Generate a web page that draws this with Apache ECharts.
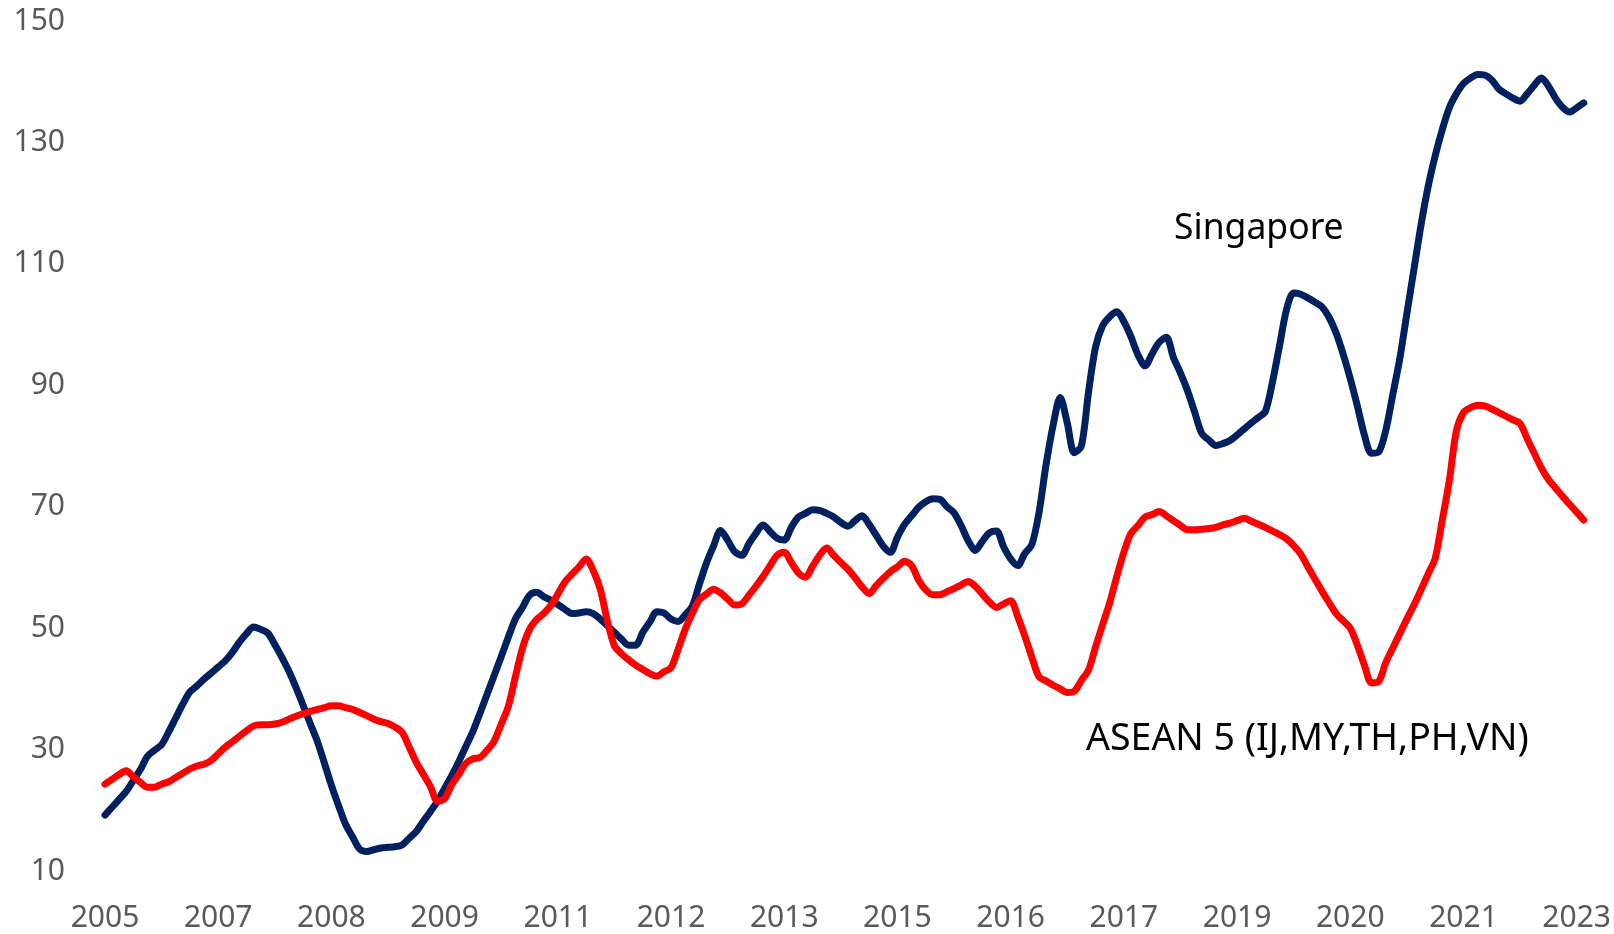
<!DOCTYPE html>
<html>
<head>
    <meta charset="utf-8">
    <title>Singapore vs ASEAN 5</title>
    <style>
        html, body { margin: 0; padding: 0; background: #fff; }
        #main { width: 1614px; height: 934px; }
    </style>
</head>
<body>
<div id="main"></div>

<script src="https://cdn.jsdelivr.net/npm/echarts@6/dist/echarts.min.js"></script>
<script>
    // monthly points, first one is 2005-09
    var startYear = 2005;
    var startMonth = 9;

    var singapore = [
        19.2, 20.5, 21.8, 23.1, 24.9, 26.7, 28.9, 29.9, 30.8, 32.9,
        35.2, 37.5, 39.5, 40.5, 41.6, 42.6, 43.6, 44.6, 46.0, 47.7,
        49.1, 50.2, 49.8, 49.2, 47.3, 45.2, 42.9, 40.2, 37.3, 34.3,
        31.4, 27.8, 24.1, 20.8, 17.7, 15.6, 13.6, 13.2, 13.5, 13.8,
        13.9, 14.0, 14.3, 15.4, 16.5, 18.2, 19.8, 21.5, 23.6, 25.7,
        28.0, 30.5, 33.0, 36.0, 39.1, 42.2, 45.3, 48.5, 51.5, 53.4,
        55.4, 55.9, 55.2, 54.6, 53.9, 53.1, 52.4, 52.5, 52.7, 52.4,
        51.5, 50.4, 49.3, 48.2, 47.2, 47.2, 49.3, 51.0, 52.7, 52.5,
        51.5, 51.1, 52.2, 53.6, 57.2, 60.7, 63.5, 66.1, 64.5, 62.6,
        62.0, 63.9, 65.6, 67.0, 65.9, 64.8, 64.5, 66.6, 68.3, 68.9,
        69.5, 69.4, 68.9, 68.3, 67.4, 66.8, 67.7, 68.5, 67.1, 65.3,
        63.5, 62.5, 65.0, 67.1, 68.5, 69.9, 70.8, 71.3, 71.2, 70.0,
        69.0, 66.9, 64.4, 62.8, 64.3, 65.7, 66.0, 63.4, 61.4, 60.3,
        62.3, 63.8, 69.0, 76.9, 83.4, 88.0, 83.8, 78.9, 80.0, 88.8,
        96.3, 99.8, 101.3, 102.1, 100.5, 98.0, 95.0, 93.2, 95.2, 97.1,
        97.9, 94.6, 92.0, 89.1, 85.6, 82.1, 81.0, 80.1, 80.4, 80.9,
        81.8, 82.8, 83.8, 84.7, 85.7, 90.5, 96.5, 102.5, 105.2, 105.0,
        104.4, 103.7, 102.9, 101.2, 98.6, 95.1, 91.1, 86.6, 81.8, 78.8,
        79.0, 82.5, 88.4, 94.4, 101.8, 109.1, 116.4, 122.7, 127.8, 132.1,
        135.7, 138.0, 139.7, 140.6, 141.2, 141.1, 140.3, 138.8, 138.0, 137.3,
        136.8, 138.0, 139.4, 140.6, 139.3, 137.3, 135.8, 135.0, 135.7, 136.5
    ];

    var asean5 = [
        24.3, 25.1, 25.9, 26.5, 25.5, 24.6, 23.8, 23.8, 24.3, 24.7,
        25.4, 26.1, 26.8, 27.3, 27.6, 28.2, 29.3, 30.4, 31.3, 32.2,
        33.1, 33.9, 34.1, 34.1, 34.2, 34.5, 35.0, 35.5, 35.9, 36.3,
        36.6, 36.9, 37.2, 37.2, 36.9, 36.6, 36.1, 35.6, 35.0, 34.6,
        34.3, 33.7, 32.8, 30.4, 27.9, 25.9, 23.9, 21.5, 21.9, 24.2,
        25.9, 27.7, 28.5, 28.7, 29.9, 31.4, 34.2, 37.1, 42.0, 46.7,
        49.8, 51.4, 52.4, 53.7, 55.6, 57.6, 58.9, 60.1, 61.4, 59.5,
        56.4, 51.2, 47.1, 45.8, 44.8, 43.9, 43.2, 42.5, 42.1, 42.8,
        43.5, 46.5, 49.8, 52.4, 54.7, 55.6, 56.4, 55.8, 54.8, 53.8,
        54.0, 55.4, 56.9, 58.5, 60.3, 62.0, 62.5, 60.8, 59.1, 58.4,
        60.2, 62.0, 63.2, 62.0, 60.8, 59.7, 58.3, 56.8, 55.7, 57.0,
        58.2, 59.3, 60.1, 61.0, 60.3, 57.9, 56.3, 55.5, 55.5, 56.0,
        56.5, 57.1, 57.7, 56.9, 55.6, 54.3, 53.4, 54.0, 54.5, 51.9,
        48.7, 45.2, 42.0, 41.3, 40.6, 40.0, 39.4, 39.6, 41.4, 43.1,
        46.9, 50.6, 54.2, 58.5, 62.5, 65.6, 66.9, 68.3, 68.7, 69.2,
        68.5, 67.7, 66.9, 66.2, 66.2, 66.3, 66.4, 66.6, 67.0, 67.3,
        67.7, 68.1, 67.6, 67.1, 66.6, 66.0, 65.4, 64.7, 63.6, 62.2,
        60.1, 58.1, 56.1, 54.2, 52.4, 51.2, 50.0, 47.2, 43.9, 41.0,
        41.2, 44.3, 46.7, 49.1, 51.5, 53.8, 56.3, 58.9, 61.5, 67.8,
        74.3, 82.5, 85.5, 86.3, 86.7, 86.6, 86.1, 85.5, 84.9, 84.3,
        83.7, 81.2, 78.8, 76.4, 74.5, 73.1, 71.7, 70.4, 69.1, 67.8
    ];

    var yTicks = [10, 30, 50, 70, 90, 110, 130, 150];

    var months = [];
    for (var i = 0; i < singapore.length; i++) {
        var m = startMonth - 1 + i;
        var y = startYear + Math.floor(m / 12);
        var mm = (m % 12) + 1;
        months.push(y + '-' + (mm < 10 ? '0' + mm : mm));
    }

    var chart = echarts.init(document.getElementById('main'));

    var option = {
        animation: false,
        backgroundColor: '#ffffff',
        grid: {
            left: 105,
            right: 30,
            top: 21,
            bottom: 63
        },
        xAxis: {
            type: 'category',
            data: months,
            boundaryGap: false,
            axisLine: { show: false },
            axisTick: { show: false },
            splitLine: { show: false },
            axisLabel: {
                interval: 15,
                margin: 32,
                color: '#595959',
                fontFamily: 'Noto Sans',
                fontSize: 30,
                formatter: function (v) { return v.slice(0, 4); }
            }
        },
        yAxis: {
            type: 'value',
            min: yTicks[0],
            max: yTicks[yTicks.length - 1],
            interval: yTicks[1] - yTicks[0],
            axisLine: { show: false },
            axisTick: { show: false },
            splitLine: { show: false },
            axisLabel: {
                margin: 40,
                padding: [4, 0, 0, 0],
                color: '#595959',
                fontFamily: 'Noto Sans',
                fontSize: 30
            }
        },
        series: [
            {
                name: 'Singapore',
                type: 'line',
                data: singapore,
                smooth: 0.3,
                showSymbol: false,
                lineStyle: { color: '#002060', width: 7, cap: 'round', join: 'round' },
                itemStyle: { color: '#002060' },
                z: 2
            },
            {
                name: 'ASEAN 5 (IJ,MY,TH,PH,VN)',
                type: 'line',
                data: asean5,
                smooth: 0.3,
                showSymbol: false,
                lineStyle: { color: '#ff0000', width: 7, cap: 'round', join: 'round' },
                itemStyle: { color: '#ff0000' },
                z: 3
            }
        ],
        graphic: [
            {
                type: 'text',
                x: 1174,
                y: 229,
                style: {
                    text: 'Singapore',
                    fill: '#000000',
                    font: '35.5px "Noto Sans"',
                    align: 'left',
                    verticalAlign: 'middle'
                }
            },
            {
                type: 'text',
                x: 1086,
                y: 739,
                style: {
                    text: 'ASEAN 5 (IJ,MY,TH,PH,VN)',
                    fill: '#000000',
                    font: '37.5px "Noto Sans"',
                    align: 'left',
                    verticalAlign: 'middle'
                }
            }
        ]
    };

    chart.setOption(option);
</script>
</body>
</html>
